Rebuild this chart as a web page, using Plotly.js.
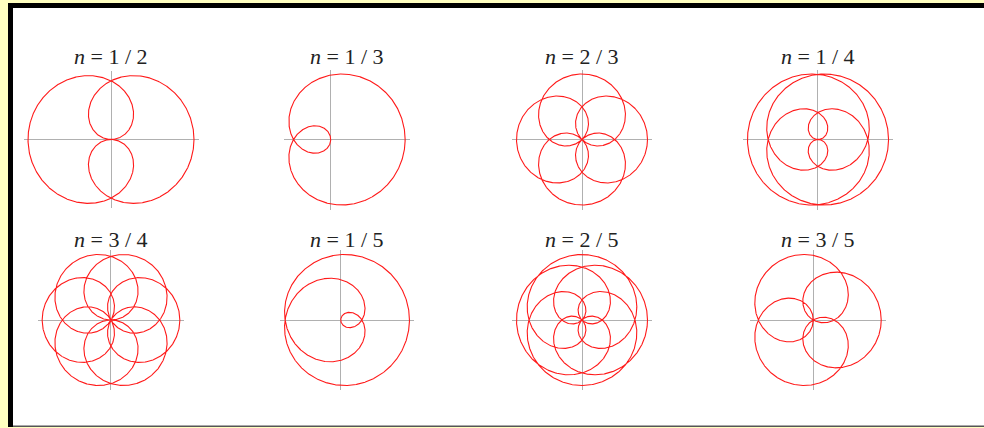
<!DOCTYPE html>
<html>
<head>
<meta charset="utf-8">
<script src="https://cdn.plot.ly/plotly-3.0.1.min.js"></script>
<style>
  html, body { margin: 0; padding: 0; background: #FFFFC0; }
  #chart { width: 984px; height: 428px; }
</style>
</head>
<body>
<div id="chart"></div>
<script>
  // rose curves r = cos(n*theta), n = p/q
  const numerators   = [1, 1, 2, 1, 3, 1, 2, 3];
  const denominators = [2, 3, 3, 4, 4, 5, 5, 5];
  const labels = ["1 / 2", "1 / 3", "2 / 3", "1 / 4", "3 / 4", "1 / 5", "2 / 5", "3 / 5"];

  const W = 984, H = 428;
  const COLS = [111, 347, 582, 818];   // cell centres (px)
  const ROWS = [139.5, 320];
  const LABEL_Y = [57, 239];
  const BOX_W = 166, BOX_H = 131, PAD = 4.5;
  const RED = "#ff1a1a", AXIS = "#b0b0b0";

  function period(p, q) {
    return (p * q) % 2 === 1 ? q * Math.PI : 2 * q * Math.PI;
  }

  const traces = [];
  const layout = {
    width: W, height: H,
    margin: { l: 0, r: 0, t: 0, b: 0 },
    paper_bgcolor: "#FFFFC0",
    plot_bgcolor: "rgba(0,0,0,0)",
    showlegend: false,
    shapes: [
      // white sheet, black top/left edge, grey bottom line
      { type: "rect", xref: "paper", yref: "paper", x0: 13 / W, x1: 1, y0: 1 - 426 / H, y1: 1 - 8 / H,
        fillcolor: "#ffffff", line: { width: 0 }, layer: "below" },
      { type: "rect", xref: "paper", yref: "paper", x0: 8 / W, x1: 13 / W, y0: 1 - 427 / H, y1: 1 - 3 / H,
        fillcolor: "#000000", line: { width: 0 }, layer: "below" },
      { type: "rect", xref: "paper", yref: "paper", x0: 8 / W, x1: 1, y0: 1 - 8 / H, y1: 1 - 3 / H,
        fillcolor: "#000000", line: { width: 0 }, layer: "below" },
      { type: "rect", xref: "paper", yref: "paper", x0: 13 / W, x1: 1, y0: 1 - 427 / H, y1: 1 - 425.5 / H,
        fillcolor: "#555555", line: { width: 0 }, layer: "below" },
    ],
    annotations: [],
  };

  numerators.forEach((p, i) => {
    const q = denominators[i];
    const n = p / q;
    const T = period(p, q);
    const steps = 3000;
    const xs = [], ys = [];
    for (let k = 0; k <= steps; k++) {
      const t = (T * k) / steps;
      const r = Math.cos(n * t);
      xs.push(r * Math.cos(t));
      ys.push(r * Math.sin(t));
    }
    const xmin = Math.min(...xs), xmax = Math.max(...xs);
    const ymin = Math.min(...ys), ymax = Math.max(...ys);
    const s = Math.min(BOX_W / (xmax - xmin), BOX_H / (ymax - ymin));

    const cx = COLS[i % 4], cy = ROWS[Math.floor(i / 4)];
    const pw = (xmax - xmin) * s + 2 * PAD;
    const ph = (ymax - ymin) * s + 2 * PAD;
    const left = cx - pw / 2, top = cy - ph / 2;

    const sfx = i === 0 ? "" : String(i + 1);
    layout["xaxis" + sfx] = {
      domain: [left / W, (left + pw) / W],
      range: [xmin - PAD / s, xmax + PAD / s],
      anchor: "y" + sfx,
      showgrid: false, showticklabels: false, ticks: "", showline: false,
      zeroline: true, zerolinecolor: AXIS, zerolinewidth: 1, fixedrange: true,
    };
    layout["yaxis" + sfx] = {
      domain: [1 - (top + ph) / H, 1 - top / H],
      range: [ymin - PAD / s, ymax + PAD / s],
      anchor: "x" + sfx,
      showgrid: false, showticklabels: false, ticks: "", showline: false,
      zeroline: true, zerolinecolor: AXIS, zerolinewidth: 1, fixedrange: true,
    };
    traces.push({
      x: xs, y: ys, xaxis: "x" + sfx, yaxis: "y" + sfx,
      type: "scatter", mode: "lines",
      line: { color: RED, width: 1.1 },
      hoverinfo: "skip",
    });
    layout.annotations.push({
      xref: "paper", yref: "paper",
      x: cx / W, y: 1 - LABEL_Y[Math.floor(i / 4)] / H,
      xanchor: "center", yanchor: "middle", showarrow: false,
      text: "<i>n</i> = " + labels[i],
      font: { family: "Times New Roman", size: 22, color: "#222222" },
    });
  });

  Plotly.newPlot("chart", traces, layout, { staticPlot: true, displayModeBar: false });
</script>
</body>
</html>
